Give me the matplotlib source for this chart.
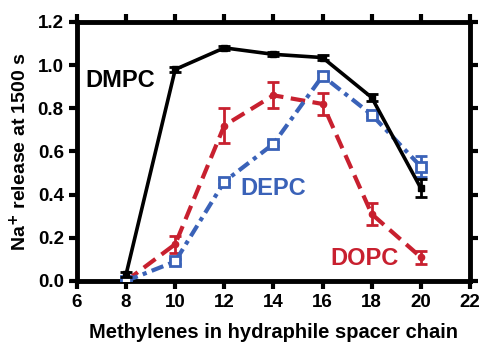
import numpy as np
import matplotlib
matplotlib.use("Agg")
import matplotlib.pyplot as plt

plt.rcParams["font.family"] = ["Liberation Sans", "DejaVu Sans"]
plt.rcParams["font.weight"] = "bold"

# Data
methylenes = [8, 10, 12, 14, 16, 18, 20]

dmpc = [0.03, 0.98, 1.08, 1.05, 1.035, 0.85, 0.43]
dmpc_err = [0.01, 0.01, 0.01, 0.01, 0.01, 0.015, 0.04]

depc = [0.0, 0.09, 0.46, 0.635, 0.95, 0.77, 0.53]
depc_err = [0.005, 0.01, 0.01, 0.01, 0.02, 0.01, 0.05]

dopc = [0.0, 0.17, 0.72, 0.86, 0.82, 0.31, 0.11]
dopc_err = [0.005, 0.04, 0.08, 0.06, 0.05, 0.05, 0.03]

red = "#c8202f"
blue = "#3a62b8"

fig = plt.figure(figsize=(4.81, 3.43), dpi=100)
ax = fig.add_axes([0.160, 0.181, 0.817, 0.755])

ax.errorbar(methylenes, dopc, yerr=dopc_err, color=red, lw=3,
            linestyle=(0, (3.5, 1.8)), marker="o", ms=4.5, capsize=4,
            capthick=2, elinewidth=2, zorder=2)
ax.errorbar(methylenes, depc, yerr=depc_err, color=blue, lw=3,
            linestyle=(0, (3, 1.3, 1, 1.3)), marker="s", ms=7.5,
            mfc="white", mec=blue, mew=2, capsize=4, capthick=2,
            elinewidth=2, zorder=3)
ax.errorbar(methylenes, dmpc, yerr=dmpc_err, color="black", lw=2.6,
            marker="s", ms=5, capsize=4, capthick=2, elinewidth=2,
            zorder=4)

ax.text(6.35, 0.93, "DMPC", fontsize=17, fontweight="bold", color="black",
        ha="left", va="center")
ax.text(12.65, 0.43, "DEPC", fontsize=17, fontweight="bold", color=blue,
        ha="left", va="center")
ax.text(16.3, 0.105, "DOPC", fontsize=17, fontweight="bold", color=red,
        ha="left", va="center")

ax.set_xlim(6, 22)
ax.set_ylim(0, 1.2)
ax.set_xticks(np.arange(6, 23, 2))
ax.set_yticks(np.arange(0, 1.21, 0.2))
ax.set_yticklabels([f"{v:.1f}" for v in np.arange(0, 1.21, 0.2)])

for s in ax.spines.values():
    s.set_linewidth(3.5)
ax.tick_params(axis="both", which="both", direction="out", length=6,
               width=3, labelsize=13.5, top=True, right=True,
               labeltop=False, labelright=False)
for lab in ax.get_xticklabels() + ax.get_yticklabels():
    lab.set_fontweight("bold")

ax.set_xlabel("Methylenes in hydraphile spacer chain", fontsize=14.5,
              fontweight="bold", labelpad=8.5)
ax.set_ylabel("Na$^\\mathbf{+}$ release at 1500 s", fontsize=14,
              fontweight="bold", labelpad=5)

fig.savefig("out.png", dpi=100)
